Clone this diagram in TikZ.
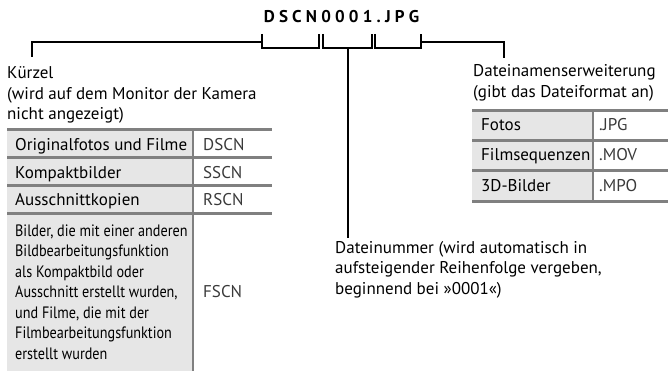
\documentclass[tikz,border=0pt]{standalone}
\usepackage{fontspec}
\setmainfont{PT Sans}
\newfontfamily\condfont[FakeStretch=0.86]{PT Sans}
\definecolor{rulegray}{HTML}{808080}
\definecolor{cellgray}{HTML}{E6E6E6}
\definecolor{codegray}{HTML}{3A3A3A}
\newcommand\mylines[1]{\begin{tabular}[t]{@{}l@{}}#1\end{tabular}}
\begin{document}
\begin{tikzpicture}[x=1pt,y=-1pt,
  lead/.style={line width=1.8pt, black},
  hrule/.style={line width=3pt, rulegray},
  vrule/.style={line width=2.5pt, rulegray},
  lbl/.style={inner sep=0pt, anchor=base west, font=\fontsize{17}{20.5}\selectfont},
  small/.style={lbl, font=\condfont\fontsize{16.5}{20.5}\selectfont},
  code/.style={lbl, text=codegray},
]
\useasboundingbox (0,0) rectangle (668,371);

% ---------- title ----------
\node[inner sep=0pt, anchor=base, font=\fontsize{17}{20}\selectfont\bfseries] (title) at (341.5,23)
  {D\kern4.2pt S\kern4.2pt C\kern4.2pt N\kern4.2pt 0\kern4.2pt 0\kern4.2pt 0\kern4.2pt 1\kern4.2pt .\kern4.2pt J\kern4.2pt P\kern4.2pt G};

% ---------- brackets ----------
\coordinate (dL) at (262,48); \coordinate (dR) at (319,48);
\coordinate (nL) at (323,48); \coordinate (nR) at (372,48);
\coordinate (eL) at (375,48); \coordinate (eR) at (421,48);
\coordinate (nM) at (348,48);
\coordinate (kzTop) at (32,57);
\coordinate (exTop) at (504,58);
\coordinate (nrEnd) at (348,238);

\draw[lead] ([yshift=14pt]dL) -- (dL) -- (dR) -- ([yshift=14pt]dR);
\draw[lead] ([yshift=14pt]nL) -- (nL) -- (nR) -- ([yshift=14pt]nR);
\draw[lead] ([yshift=14pt]eL) -- (eL) -- (eR) -- ([yshift=14pt]eR);
\draw[lead] ([yshift=6pt]dL) -| (kzTop);
\draw[lead] ([yshift=6pt]eR) -| (exTop);
\draw[lead] (nM) -- (nrEnd);

% ---------- labels ----------
\node[lbl] (kz) at (7,79) {\mylines{K\"urzel\\(wird auf dem Monitor der Kamera\\nicht angezeigt)}};
\node[lbl] (ex) at (473,77) {\mylines{Dateinamenserweiterung\\(gibt das Dateiformat an)}};
\node[lbl] (nr) at (335,253) {\mylines{Dateinummer (wird automatisch in\\aufsteigender Reihenfolge vergeben,\\beginnend bei »0001«)}};

% ---------- left table ----------
\fill[cellgray] (7,130) rectangle (193,371);
\draw[vrule] (193,130) -- (193,371);
\foreach \yy in {130,158,186,213.5} \draw[hrule] (7,\yy) -- (272,\yy);
\node[lbl] (t1a) at (15,150.5) {Originalfotos und Filme};
\node[code] (t1b) at (203,150.5) {DSCN};
\node[lbl] (t2a) at (15,178.5) {Kompaktbilder};
\node[code] (t2b) at (203,178.5) {SSCN};
\node[lbl] (t3a) at (15,206) {Ausschnittkopien};
\node[code] (t3b) at (203,206) {RSCN};
\node[small] (t4a) at (15,236) {\mylines{Bilder, die mit einer anderen\\Bildbearbeitungsfunktion\\als Kompaktbild oder\\Ausschnitt erstellt wurden,\\und Filme, die mit der\\Filmbearbeitungsfunktion\\erstellt wurden}};
\node[code] (t4b) at (203,297) {FSCN};

% ---------- right table ----------
\fill[cellgray] (472,111) rectangle (593,201.5);
\draw[vrule] (593,111) -- (593,201.5);
\foreach \yy in {111,140.5,170.5,201.5} \draw[hrule] (472,\yy) -- (668,\yy);
\node[lbl] (r1a) at (481,131) {Fotos};
\node[code] (r1b) at (599,131) {.JPG};
\node[lbl] (r2a) at (481,161) {Filmsequenzen};
\node[code] (r2b) at (599,161) {.MOV};
\node[lbl] (r3a) at (481,191.5) {3D-Bilder};
\node[code] (r3b) at (599,191.5) {.MPO};
\end{tikzpicture}
\end{document}
